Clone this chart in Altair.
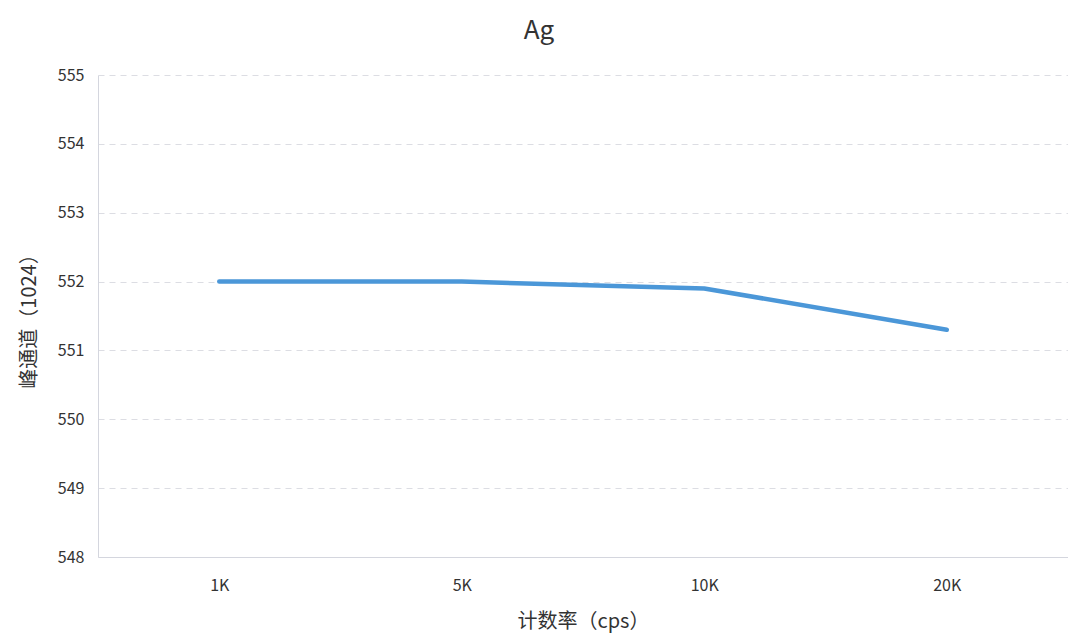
import altair as alt
import pandas as pd

categories = ["1K", "5K", "10K", "20K"]
values = [552.0, 552.0, 551.9, 551.3]

df = pd.DataFrame({"rate": categories, "peak": values})

font = "Noto Sans CJK SC"

chart = alt.Chart(df).mark_line(
    color="#4b97d8", strokeWidth=4.5, strokeCap="round", strokeJoin="round",
    interpolate="linear"
).encode(
    x=alt.X("rate:N", sort=categories,
            scale=alt.Scale(type="point", padding=0.5),
            axis=alt.Axis(title="计数率（cps）", labelAngle=0, ticks=False,
                          labelPadding=20, titlePadding=18, grid=False,
                          domainColor="#d4d6de", labelColor="#333333",
                          titleColor="#333333", labelFontSize=16,
                          titleFontSize=20, titleFontWeight="normal",
                          labelFont=font, titleFont=font)),
    y=alt.Y("peak:Q", scale=alt.Scale(domain=[548, 555], nice=False, zero=False),
            axis=alt.Axis(title="峰通道（1024）", values=list(range(548, 556)),
                          ticks=False, labelPadding=14, titlePadding=18,
                          grid=True, gridColor="#dcdde3", gridDash=[6, 5],
                          domainColor="#d4d6de", labelColor="#333333",
                          titleColor="#333333", labelFontSize=16,
                          titleFontSize=20, titleFontWeight="normal",
                          labelFont=font, titleFont=font)),
).properties(
    width=970,
    height=482,
    title=alt.Title("Ag", fontSize=26, font=font, fontWeight="normal",
                    color="#333333", anchor="middle", dx=-44, offset=23),
    autosize=alt.AutoSizeParams(type="none"),
    padding={"left": 90, "top": 67, "right": 0, "bottom": 79},
).configure_view(stroke=None)

chart.save("out.html", embed_options={"renderer": "svg", "actions": False})
